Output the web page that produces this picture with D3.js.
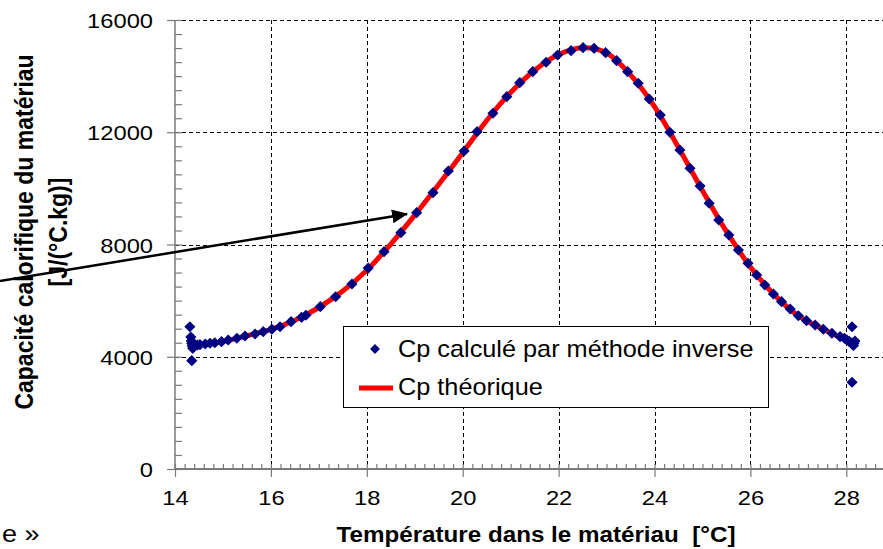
<!DOCTYPE html>
<html>
<head>
<meta charset="utf-8">
<script src="https://cdn.jsdelivr.net/npm/d3@7/dist/d3.min.js"></script>
<style>
  html, body { margin: 0; padding: 0; background: #fff; }
  svg { display: block; }
  text { font-family: "Liberation Sans", Arial, sans-serif; fill: #000; }
</style>
</head>
<body>
<svg id="chart" width="883" height="549"></svg>
<script>
// Temperature (°C) and heat capacity (J/(°C.kg)) obtained by the inverse method
const tempInverse = [
  14.31, 14.33, 14.34, 14.35, 14.35, 14.36, 14.37, 14.38, 14.40, 14.43, 14.47, 14.52,
  14.63, 14.73, 14.83, 14.97, 15.11, 15.29, 15.46, 15.67, 15.84, 16.02, 16.19, 16.42,
  16.64, 16.73, 17.03, 17.35, 17.69, 18.03, 18.36, 18.71, 19.04, 19.38, 19.70, 20.03,
  20.30, 20.63, 20.92, 21.19, 21.46, 21.74, 21.98, 22.26, 22.51, 22.74, 22.98, 23.21,
  23.44, 23.66, 23.89, 24.12, 24.32, 24.53, 24.74, 24.95, 25.14, 25.34, 25.55, 25.75,
  25.95, 26.13, 26.30, 26.48, 26.65, 26.83, 27.00, 27.17, 27.35, 27.52, 27.70, 27.87,
  27.96, 28.01, 28.06, 28.10, 28.12, 28.12, 28.13, 28.15, 28.16, 28.18
];
const cpInverse = [
  5070, 4700, 4560, 4470, 3860, 4380, 4300, 4450, 4390, 4410, 4420, 4430,
  4455, 4480, 4500, 4537, 4597, 4658, 4740, 4811, 4894, 4980, 5071, 5250,
  5405, 5477, 5784, 6140, 6593, 7160, 7745, 8422, 9134, 9847, 10620, 11333,
  12021, 12676, 13268, 13767, 14159, 14494, 14754, 14908, 15014, 14991, 14837, 14551,
  14159, 13745, 13186, 12616, 12000, 11369, 10716, 10086, 9469, 8874, 8339, 7805,
  7331, 6914, 6557, 6237, 5962, 5702, 5463, 5285, 5132, 4979, 4836, 4715,
  4660, 4597, 4550, 4500, 5071, 3090, 4440, 4400, 4480, 4560
];

// Theoretical heat capacity curve
const tempTheory = [14.3, 14.5, 15, 15.5, 16, 16.5, 17, 17.5, 18, 18.5, 19, 19.5, 20, 20.5, 21,
  21.5, 22, 22.5, 23, 23.5, 24, 24.5, 25, 25.5, 26, 26.5, 27, 27.5, 28, 28.25];
const cpTheory = [4400, 4420, 4540, 4750, 4975, 5300, 5755, 6340, 7080, 8016, 9048, 10137, 11268, 12418, 13415,
  14210, 14770, 15010, 14825, 14046, 12913, 11460, 9924, 8466, 7200, 6205, 5463, 4996, 4610, 4560];

// Axis tick values
const xTickValues = [14, 16, 18, 20, 22, 24, 26, 28];
const yTickValues = [0, 4000, 8000, 12000, 16000];

// Annotation arrow, in data units: [temperature, cp]
const arrowFrom = [10.35, 6700];
const arrowTo = [18.84, 9090];

const legendLabels = ["Cp calculé par méthode inverse", "Cp théorique"];

const svg = d3.select("#chart");
const W = 883;
const plotLeft = 175, plotTop = 20, plotBottom = 469, unit = 47.95;
const SX = 1.13; // horizontal text stretch

const x = d3.scaleLinear().domain([14, 29]).range([plotLeft, plotLeft + 15 * unit]);
const y = d3.scaleLinear().domain([0, 16000]).range([plotBottom, plotTop]);

// Gridlines
const grid = svg.append("g").attr("stroke", "#000").attr("stroke-width", 1)
  .attr("stroke-dasharray", "4,3").attr("fill", "none");
grid.selectAll("line.v").data(xTickValues.filter(d => d > 14)).join("line")
  .attr("x1", d => Math.round(x(d)) + 0.5).attr("x2", d => Math.round(x(d)) + 0.5)
  .attr("y1", y(16000)).attr("y2", y(0));
grid.selectAll("line.h").data(yTickValues.filter(d => d > 0)).join("line")
  .attr("x1", plotLeft).attr("x2", W)
  .attr("y1", d => Math.round(y(d)) + 0.5).attr("y2", d => Math.round(y(d)) + 0.5);

// Axes
const axisColor = "#7a7a7a";
const xMinor = d3.range(140, 291, 2).map(v => v / 10);
const yMinor = d3.range(0, 16001, 500);

const xAxisG = svg.append("g").attr("transform", `translate(0,${plotBottom})`);
xAxisG.call(d3.axisBottom(x).tickValues(xMinor).tickSizeInner(-5).tickSizeOuter(0).tickFormat(""));
xAxisG.call(g => g.select(".domain").remove());
const xMajorG = svg.append("g").attr("transform", `translate(0,${plotBottom})`)
  .call(d3.axisBottom(x).tickValues(xTickValues).tickSizeInner(8).tickSizeOuter(0).tickPadding(13)
    .tickFormat(d3.format("d")));
xMajorG.select(".domain").remove();
svg.append("line").attr("x1", plotLeft).attr("x2", W).attr("y1", plotBottom).attr("y2", plotBottom)
  .attr("stroke", axisColor).attr("stroke-width", 2);

const yAxisG = svg.append("g").attr("transform", `translate(${plotLeft},0)`);
yAxisG.call(d3.axisLeft(y).tickValues(yMinor).tickSizeInner(-7).tickSizeOuter(0).tickFormat(""));
yAxisG.select(".domain").remove();
const yMajorG = svg.append("g").attr("transform", `translate(${plotLeft},0)`)
  .call(d3.axisLeft(y).tickValues(yTickValues).tickSizeInner(8).tickSizeOuter(0).tickPadding(10)
    .tickFormat(d3.format("d")));
yMajorG.select(".domain").remove();
svg.append("line").attr("x1", plotLeft).attr("x2", plotLeft).attr("y1", plotTop).attr("y2", plotBottom + 1)
  .attr("stroke", axisColor).attr("stroke-width", 1.5);

svg.selectAll(".tick line").attr("stroke", axisColor).attr("stroke-width", 1.2);
[xMajorG, yMajorG].forEach(g => g.selectAll(".tick text")
  .attr("font-family", "Liberation Sans, Arial, sans-serif")
  .attr("font-size", 21).attr("fill", "#000"));
xMajorG.selectAll(".tick text").attr("transform", `scale(${SX},1)`);
yMajorG.selectAll(".tick text").attr("dy", "0.36em")
  .attr("transform", `scale(${SX},1)`).attr("x", -22 / SX);

// Theoretical curve
const line = d3.line().x(d => x(d[0])).y(d => y(d[1])).curve(d3.curveCatmullRom);
svg.append("path").datum(tempTheory.map((t, i) => [t, cpTheory[i]]))
  .attr("d", line).attr("fill", "none").attr("stroke", "#ff0000")
  .attr("stroke-width", 5).attr("stroke-linejoin", "round");

// Inverse-method points
const diamond = d3.symbol(d3.symbolSquare, 62);
svg.append("g").selectAll("path").data(tempInverse.map((t, i) => [t, cpInverse[i]])).join("path")
  .attr("d", diamond)
  .attr("transform", d => `translate(${x(d[0])},${y(d[1])}) rotate(45)`)
  .attr("fill", "#000080");

// Legend
const lg = svg.append("g");
lg.append("rect").attr("x", 343.5).attr("y", 326.5).attr("width", 425).attr("height", 81)
  .attr("fill", "#fff").attr("stroke", "#000").attr("stroke-width", 1);
lg.append("path").attr("d", d3.symbol(d3.symbolSquare, 48))
  .attr("transform", "translate(375,349) rotate(45)").attr("fill", "#000080");
lg.append("line").attr("x1", 359).attr("x2", 393).attr("y1", 388).attr("y2", 388)
  .attr("stroke", "#ff0000").attr("stroke-width", 5);
legendLabels.forEach((label, i) => {
  lg.append("text").attr("transform", `translate(398,${357 + i * 38}) scale(1.1,1)`)
    .attr("font-size", 23).text(label);
});

// Axis titles
svg.append("text").attr("transform", `translate(536,542) scale(1.1,1)`)
  .attr("text-anchor", "middle").attr("font-size", 22).attr("font-weight", "bold")
  .text("Température dans le matériau \u00a0[°C]");
const yTitle = svg.append("g").attr("transform", `translate(0,232) scale(${SX},1) rotate(-90)`);
yTitle.append("text").attr("x", 0).attr("y", 33 / SX).attr("text-anchor", "middle")
  .attr("font-size", 23).attr("font-weight", "bold").text("Capacité calorifique du matériau");
yTitle.append("text").attr("x", 0).attr("y", 67 / SX).attr("text-anchor", "middle")
  .attr("font-size", 23).attr("font-weight", "bold").text("[J/(°C.kg)]");

// Annotation arrow
svg.append("defs").append("marker").attr("id", "head")
  .attr("viewBox", "0 0 16 14").attr("refX", 15).attr("refY", 7)
  .attr("markerWidth", 16).attr("markerHeight", 14)
  .attr("markerUnits", "userSpaceOnUse").attr("orient", "auto")
  .append("path").attr("d", "M0,0 L16,7 L0,14 Z").attr("fill", "#000");
svg.append("line")
  .attr("x1", x(arrowFrom[0])).attr("y1", y(arrowFrom[1]))
  .attr("x2", x(arrowTo[0])).attr("y2", y(arrowTo[1]))
  .attr("stroke", "#000").attr("stroke-width", 2.5).attr("marker-end", "url(#head)");

// Fragment of surrounding text
svg.append("text").attr("transform", `translate(2,542) scale(${SX},1)`)
  .attr("font-family", "Liberation Serif, Times New Roman, serif").attr("font-size", 24)
  .text("e »");
</script>
</body>
</html>
